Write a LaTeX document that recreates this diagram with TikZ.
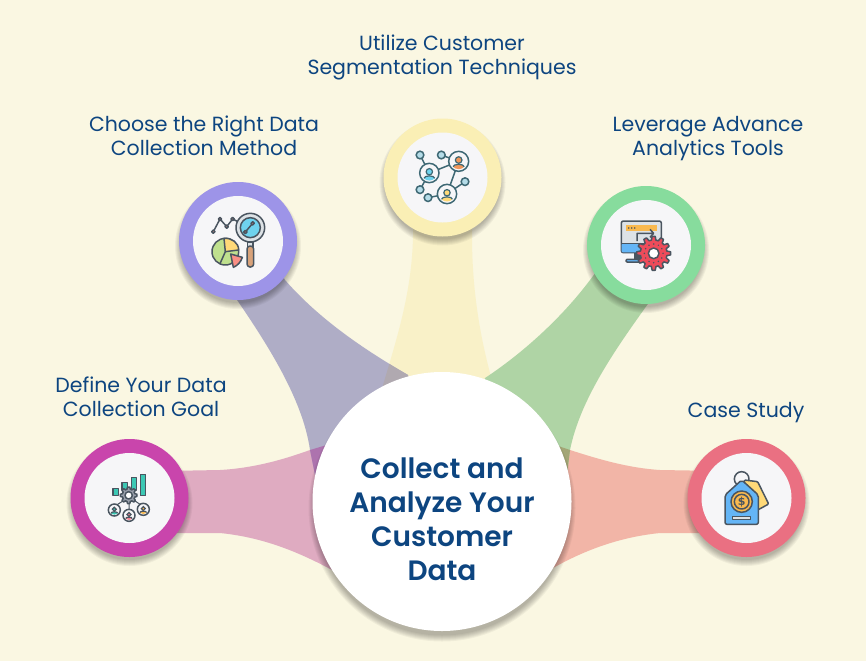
\documentclass[tikz,border=0pt]{standalone}
\usepackage{fontspec}
\setmainfont{Poppins}
\newfontfamily\symfont{DejaVu Sans}
\newfontfamily\hubfont{Poppins SemiBold}
\definecolor{paper}{HTML}{FAF7E2}
\definecolor{inkblue}{HTML}{0D4580}
\definecolor{ringpink}{HTML}{C945AC}
\definecolor{ringviolet}{HTML}{9D94E8}
\definecolor{ringyellow}{HTML}{FAEFB5}
\definecolor{ringgreen}{HTML}{87DC9D}
\definecolor{ringsalmon}{HTML}{EA7082}
\definecolor{bandpink}{HTML}{DFABC1}
\definecolor{bandviolet}{HTML}{AFADC6}
\definecolor{bandyellow}{HTML}{F9F1C8}
\definecolor{bandgreen}{HTML}{AFD4A5}
\definecolor{bandsalmon}{HTML}{F2B5A7}
\definecolor{overlapa}{HTML}{AD73AE}
\definecolor{overlapb}{HTML}{B0A9B0}
\definecolor{overlapc}{HTML}{A3A676}
\definecolor{disc}{HTML}{F6F6F8}
\definecolor{outl}{HTML}{4A5560}
\definecolor{teal}{HTML}{3CC8B4}
\definecolor{netline}{HTML}{3E6874}
\definecolor{leafblue}{HTML}{B5DCE8}
\definecolor{skyfill}{HTML}{6FD3EE}
\definecolor{tagblue}{HTML}{64B5F6}
\definecolor{warm}{HTML}{FFD978}
\definecolor{coral}{HTML}{FA8F85}
\definecolor{leaf}{HTML}{BFE08E}
\definecolor{wood}{HTML}{D8A27A}
\definecolor{gearred}{HTML}{EE4B5A}
\definecolor{amber}{HTML}{F9B94F}
\definecolor{rust}{HTML}{F0965A}
\definecolor{rose}{HTML}{F0808F}
\definecolor{steel}{HTML}{9AA0AC}
\definecolor{mist}{HTML}{DDE2E6}
% band outlines, in pixel coordinates
\def\pathpink{(165,471) -- (220,470) .. controls (255,468) and (285,459) .. (310,450) -- (350,438) -- (360,575) -- (332,570) .. controls (295,550) and (260,537) .. (220,533) -- (165,533) -- cycle}
\def\pathviolet{(215,270) -- (235,297) .. controls (268,345) and (303,400) .. (310,450) -- (318,490) -- (420,450) -- (408,375) .. controls (365,350) and (320,320) .. (285,280) -- (260,240) -- cycle}
\def\pathyellow{(413,200) -- (413,236) .. controls (412,290) and (398,335) .. (383,385) -- (383,420) -- (495,420) -- (490,373) .. controls (480,335) and (472,290) .. (472,236) -- (472,200) -- cycle}
\def\pathgreen{(620,240) -- (590,280) .. controls (560,320) and (520,355) .. (485,378) -- (470,440) -- (565,490) -- (570,450) .. controls (580,400) and (615,350) .. (645,308) -- (665,280) -- cycle}
\def\pathsalmon{(720,471) -- (660,470) .. controls (628,468) and (598,459) .. (570,450) -- (535,438) -- (525,575) -- (553,568) .. controls (585,550) and (620,537) .. (660,533) -- (720,533) -- cycle}
\tikzset{
  x=1pt,y=-1pt,
  ringnode/.style={circle,inner sep=0pt,minimum size=118pt},
  discnode/.style={circle,inner sep=0pt,minimum size=90pt,fill=disc},
  tagtext/.style={text=inkblue,font=\fontsize{20.5}{24}\selectfont,align=center,inner sep=0pt},
  hubtext/.style={text=inkblue,font=\fontsize{28}{34}\selectfont\hubfont,anchor=base,inner sep=0pt},
  icon/.style={draw=outl,line width=1.5pt,line join=round},
  net/.style={draw=netline,line width=1.5pt}
}
% soft dropped shadow made of stacked translucent discs
\newcommand{\softshadow}[3]{%
  \foreach \d in {4,3,2,1,0,-1,-2}
    \fill[black,opacity=0.045] (#1,#2+5) circle ({#3+\d});
}
% toothed wheel: centre x, centre y, outer radius, root radius, teeth, style
\newcommand{\wheel}[6]{%
  \filldraw[#6] plot[domain=0:360,samples=#5*24+1]
    ({#1+(#4+(#3-#4)*max(0,min(1,(0.32-min(mod(\x*#5,360)/360,1-mod(\x*#5,360)/360))/0.15)))*cos(\x)},
     {#2+(#4+(#3-#4)*max(0,min(1,(0.32-min(mod(\x*#5,360)/360,1-mod(\x*#5,360)/360))/0.15)))*sin(\x)}) -- cycle;
}
% portrait badge: centre x, centre y, radius, colour, line colour
\newcommand{\badge}[5]{%
  \begin{scope}
    \filldraw[draw=#5,line width=1.5pt,fill=disc] (#1,#2) circle (#3);
    \clip (#1,#2) circle ({#3*0.78});
    \filldraw[draw=#5,line width=1.2pt,fill=#4] (#1-#3*0.6,#2+#3) -- (#1-#3*0.6,#2+#3*0.58) .. controls (#1-#3*0.5,#2+#3*0.2) and (#1+#3*0.5,#2+#3*0.2) .. (#1+#3*0.6,#2+#3*0.58) -- (#1+#3*0.6,#2+#3) -- cycle;
    \filldraw[draw=#5,line width=1.2pt,fill=#4] (#1,#2-#3*0.13) circle ({#3*0.33});
  \end{scope}
}
\begin{document}
\begin{tikzpicture}
\useasboundingbox (0,0) rectangle (866,661);
\fill[paper] (0,0) rectangle (866,661);

% bands and their overlaps
\fill[bandyellow] \pathyellow;
\fill[bandpink] \pathpink;
\fill[bandviolet] \pathviolet;
\fill[bandsalmon] \pathsalmon;
\fill[bandgreen] \pathgreen;
\begin{scope}\clip \pathpink; \fill[overlapa] \pathviolet; \end{scope}
\begin{scope}\clip \pathyellow; \fill[overlapb] \pathviolet; \end{scope}
\begin{scope}\clip \pathsalmon; \fill[overlapc] \pathgreen; \end{scope}

% outer rings
\softshadow{129.5}{498}{59}
\softshadow{238}{241}{59}
\softshadow{442.5}{177.5}{59}
\softshadow{646}{245}{59}
\softshadow{746.5}{498}{59}
\node[ringnode,fill=ringpink] (goalring) at (129.5,498) {};
\node[ringnode,fill=ringviolet] (methodring) at (238,241) {};
\node[ringnode,fill=ringyellow] (segring) at (442.5,177.5) {};
\node[ringnode,fill=ringgreen] (toolsring) at (646,245) {};
\node[ringnode,fill=ringsalmon] (casering) at (746.5,498) {};
\node[discnode] (goaldisc) at (goalring) {};
\node[discnode] (methoddisc) at (methodring) {};
\node[discnode] (segdisc) at (segring) {};
\node[discnode] (toolsdisc) at (toolsring) {};
\node[discnode] (casedisc) at (casering) {};

% central disc
\softshadow{442}{503}{129.5}
\node[circle,fill=white,inner sep=0pt,minimum size=259pt] (hub) at (442,501.5) {};
\node[hubtext] (hubline1) at (442,478) {Collect and};
\node[hubtext] (hubline2) at (442,512) {Analyze Your};
\node[hubtext] (hubline3) at (442,546) {Customer};
\node[hubtext] (hubline4) at (442,580) {Data};

% captions
\node[tagtext] (goalcap) at (141,396.5) {Define Your Data\\Collection Goal};
\node[tagtext] (methodcap) at (204,136) {Choose the Right Data\\Collection Method};
\node[tagtext] (segcap) at (442,57) {Utilize Customer\\Segmentation Techniques};
\node[tagtext] (toolscap) at (708,138.5) {Leverage Advance\\Analytics Tools};
\node[tagtext] (casecap) at (746,413) {Case Study};

% chart, cog and three people
\begin{scope}[shift={(60,430)},scale=1/3]
  \draw[icon,line width=1pt] (207,215) -- (207,240) (190,212) -- (170,225) (224,212) -- (243,225);
  \filldraw[icon,fill=teal] (159,175) rectangle (175,197);
  \filldraw[icon,fill=teal] (186,157) rectangle (202,180);
  \filldraw[icon,fill=teal] (214,143) rectangle (230,180);
  \filldraw[icon,fill=teal] (241,133) rectangle (257,197);
  \wheel{206}{196}{25}{19}{8}{icon,fill=steel}
  \filldraw[icon,fill=white] (206,196) circle (11);
  \badge{163}{240}{18}{teal}{outl}
  \badge{207}{256}{18}{rose}{outl}
  \badge{250}{238}{18}{amber}{outl}
\end{scope}

% pie chart, trend line and magnifier
\begin{scope}[shift={(170,170)},scale=1/3]
  \draw[icon] (130,185) -- (150,147) -- (170,170) -- (188,147) -- (208,157);
  \filldraw[icon,fill=mist] (241,173) circle (43);
  \filldraw[icon,fill=skyfill] (241,173) circle (30);
  \draw[icon] (226,186) -- (248,160);
  \foreach \px/\py in {130/185,150/147,170/170,188/147,226/186,248/160}
    \filldraw[icon,fill=coral] (\px,\py) circle (5);
  \filldraw[icon,fill=mist] (233,216) rectangle (249,232);
  \filldraw[icon,fill=wood,rounded corners=3pt] (231,228) rectangle (251,291);
  \filldraw[icon,fill=leaf] (166,245) circle (40);
  \filldraw[icon,fill=warm] (166,245) -- (162,205) .. controls (185,203) and (206,218) .. (206,240) -- cycle;
  \draw[icon] (166,245) -- (150,281);
  \filldraw[icon,fill=coral] (182,252) -- (217,262) .. controls (213,275) and (203,287) .. (190,292) -- cycle;
\end{scope}

% people network
\begin{scope}[shift={(372,108)},scale=1/3]
  \draw[net] (144,141) -- (172,195) -- (260,160) -- (225,258) -- (279,221);
  \draw[net] (208,141) -- (260,160) (172,195) -- (144,245) (168,269) -- (225,258);
  \foreach \px/\py in {144/141,208/141,144/245,168/269,279/221}
    \filldraw[net,fill=leafblue] (\px,\py) circle (11.5);
  \badge{172}{195}{29}{skyfill}{netline}
  \badge{260}{160}{30}{rust}{netline}
  \badge{225}{258}{29}{warm}{netline}
\end{scope}

% monitor with a cog
\begin{scope}[shift={(576,176)},scale=1/3]
  \filldraw[icon,fill=outl] (176,228) rectangle (190,250);
  \filldraw[icon,fill=tagblue,rounded corners=1pt] (150,250) rectangle (206,258);
  \filldraw[icon,fill=mist,rounded corners=2pt] (136,135) rectangle (256,230);
  \fill[tagblue,rounded corners=1pt] (137,203) rectangle (255,229);
  \draw[icon] (137,203) -- (255,203);
  \fill[amber] (150,148) rectangle (243,165);
  \foreach \px in {158,167,176} \fill[outl] (\px,156) circle (2.5);
  \draw[icon] (183,195) -- (183,172) -- (232,172) (222,160) -- (233,172) -- (222,184);
  \wheel{233}{232}{51}{40}{12}{icon,fill=gearred}
  \foreach \a in {0,30,...,330} \fill[outl] ({233+28*cos(\a)},{232+28*sin(\a)}) circle (2.5);
  \filldraw[icon,fill=white] (233,232) circle (16);
\end{scope}

% price tags
\begin{scope}[shift={(676,430)},scale=1/3]
  \draw[icon] (197,147) circle (22);
  \filldraw[icon,fill=warm,rounded corners=1pt] (205,150) -- (245,155) -- (278,222) -- (245,240) -- (205,200) -- cycle;
  \filldraw[icon,fill=tagblue,rounded corners=2pt] (147,195) -- (197,150) -- (247,195) -- (247,283) -- (147,283) -- cycle;
  \filldraw[icon,fill=amber] (197,215) circle (32);
  \draw[icon] (197,215) circle (22);
  \node[inner sep=0pt,text=outl,font=\symfont\fontsize{11}{11}\selectfont\bfseries] (dollar) at (197,215) {\$};
  \filldraw[icon,line width=0.8pt,fill=mist] (170,258) rectangle (222,268);
\end{scope}
\end{tikzpicture}
\end{document}
